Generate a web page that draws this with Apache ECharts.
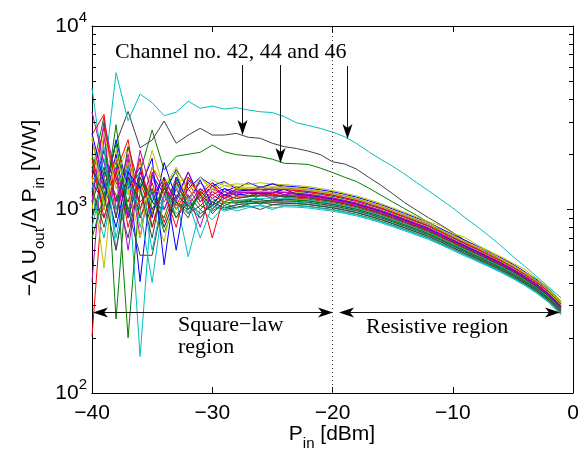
<!DOCTYPE html>
<html>
<head>
<meta charset="utf-8">
<script src="https://cdn.jsdelivr.net/npm/echarts@6/dist/echarts.min.js"></script>
<style>html,body{margin:0;padding:0;background:#fff}#c{width:578px;height:452px}</style>
</head>
<body>
<div id="c"></div>
<script>
// ---------- DATA ----------
const pin = [-40,-39,-38,-37,-36,-35,-34,-33,-32,-31,-30,-29,-28,-27,-26,-25,-24,-23,-22,-21,-20,-19,-18,-17,-16,-15,-14,-13,-12,-11,-10,-9,-8,-7,-6,-5,-4,-3,-2,-1];

// highlighted channels
const ch46 = [4590,1500,5565,3050,4254,3820,3245,3390,3890,3560,3664,3530,3590,3485,3410,3375,3205,2970,2870,2765,2640,2493,2290,2065,1880,1720,1560,1400,1265,1135,1020,905,810,720,635,555,490,430,377,330];
const ch44 = [1500,1300,2300,3420,2170,2390,3035,2295,2545,2770,2545,2545,2600,2475,2443,2295,2200,2150,2080,1990,1820,1770,1660,1500,1360,1220,1090,990,900,825,750,680,615,560,510,465,420,378,333,288];
const ch42 = [1200,900,1500,1300,1600,2710,1640,1950,2000,2050,2245,2065,1990,1960,1940,1880,1785,1775,1760,1680,1590,1500,1420,1310,1200,1100,1010,930,850,780,715,650,595,545,500,455,412,372,328,283];

// remaining channels (bundle)
const chA01 = [1250,2100,1100,1700,405,1550,1200,1650,1300,1500,1350,1420,1300,1400,1320,1380,1343,1329,1310,1280,1250,1209,1168,1116,1064,1006,952,898,847,788,732,681,633,588,546,503,458,414,367,315];
const chA02 = [1600,3200,253,1800,900,1250,750,1100,950,1050,980,1080,1020,1071,1100,1060,1081,1074,1062,1041,1020,990,960,920,880,836,793,751,711,664,619,577,539,503,468,432,396,359,319,275];
const chA03 = [203,1500,1900,800,1400,950,1300,1050,1400,1100,1250,1150,1230,1180,1260,1200,1240,1207,1192,1166,1140,1104,1068,1022,976,925,876,828,782,729,678,631,588,547,509,469,428,388,344,296];
const chA04 = [1100,1900,700,1500,158,1200,800,1150,553,1000,880,1050,980,1023,1060,1020,1035,1030,1019,999,980,952,923,886,848,806,765,725,687,642,599,559,523,488,454,420,385,349,311,267];
const chA05 = [405,2500,900,1900,700,1600,1000,1500,1150,1400,1200,1300,1250,1285,1250,1320,1286,1274,1256,1228,1200,1161,1122,1073,1024,969,917,866,817,761,707,658,613,570,529,488,445,402,357,306];
const chA06 = [1500,480,2100,1200,1800,1000,668,1400,1500,1250,1450,1350,1380,1369,1400,1374,1366,1352,1332,1301,1270,1228,1186,1133,1080,1021,966,911,859,815,742,705,642,596,553,510,472,419,372,318];
const chA07 = [1300,800,1600,1000,563,563,1200,900,1100,950,1050,1000,1030,1047,1000,1061,1058,1052,1040,1020,1000,971,941,903,864,821,779,738,699,653,609,568,531,496,461,426,391,354,315,271];
const chA08 = [1700,1000,2000,900,1600,1100,1500,600,1450,1200,1400,1250,1330,1260,1313,1380,1309,1296,1278,1249,1220,1180,1141,1090,1040,984,931,879,829,772,717,667,621,577,536,494,450,407,361,310];
const chA09 = [900,1400,1800,200,1300,800,1350,900,1200,1000,1150,1050,1120,1130,1136,1100,1138,1129,1116,1093,1070,1037,1005,962,920,873,827,783,740,691,643,599,559,521,485,447,409,371,329,283];
const chA10 = [2550,3300,1000,1500,900,1400,850,1300,950,1250,700,1200,1100,1100,1200,1230,1161,1152,1138,1114,1090,1056,1023,979,936,888,841,796,752,702,653,608,568,529,492,454,415,376,334,287];
const chA11 = [1200,700,1700,1100,1400,600,1250,1000,1150,900,1100,1000,1060,1095,1101,1107,1104,1096,1084,1062,1040,1009,978,937,896,851,807,764,723,675,629,586,547,510,475,438,401,364,323,278];
const chA12 = [3400,1800,1100,2000,1000,1500,1100,1400,1200,800,1300,1200,1240,1238,1242,1300,1241,1229,1213,1187,1160,1123,1086,1039,992,940,890,841,794,740,688,640,596,555,516,475,434,393,348,299];
const chA13 = [1000,2600,1300,1800,1200,2100,1300,1700,1250,1500,1300,1400,1330,1321,1325,1328,1320,1307,1289,1259,1230,1190,1150,1099,1048,991,938,885,850,777,722,672,625,595,539,497,453,420,363,311];
const chA14 = [900,1600,1200,700,1500,1000,1300,1100,1000,1200,1050,1150,1090,1107,1112,1119,1115,1107,1094,1072,1050,1018,987,945,904,858,814,770,729,680,634,590,551,514,478,441,404,366,325,280];
const chA15 = [1400,1100,2400,1300,1700,900,1800,1150,1600,1150,1350,1200,1280,1261,1330,1270,1200,1252,1235,1207,1180,1142,1104,1056,1008,954,903,853,805,750,697,649,605,562,522,482,439,397,353,303];
const chA16 = [2000,1000,2900,900,1500,1000,1300,1600,1000,1250,1100,1200,1150,1178,1183,1188,1184,1174,1159,1135,1110,1075,1041,996,952,903,855,809,764,713,663,617,576,536,499,460,420,381,338,290];
const chA17 = [1500,2800,1400,1100,1900,800,1400,1000,1300,1050,1200,1100,1180,1190,1195,1200,1195,1185,1170,1145,1120,1085,1050,1005,960,910,862,815,770,718,668,622,580,540,502,463,423,383,340,292];
const chA18 = [800,1500,1000,1700,800,1300,1000,1350,950,1200,1000,1150,1100,1142,1148,1154,1149,1141,1127,1103,1080,1047,1014,971,928,880,834,789,746,696,648,604,564,525,488,451,412,373,332,285];
const chA19 = [2400,1300,1700,600,1600,1100,1000,1400,1050,1300,1150,1250,1190,1270,1207,1150,1206,1196,1181,1155,1130,1095,1059,1014,968,917,869,821,776,723,673,627,584,544,505,466,426,385,342,294];
const chA20 = [1800,1100,1500,2200,1000,1300,1200,1000,1500,1150,1300,1100,1260,1250,1254,1258,1252,1241,1224,1197,1170,1133,1095,1048,1000,947,897,847,800,745,693,645,601,559,519,479,437,395,351,301];
const chA21 = [1100,1700,900,2200,1300,700,1500,1100,900,1300,1000,1200,1150,1172,1230,1183,1178,1168,1154,1129,1105,1071,1036,992,948,899,852,805,761,710,661,615,574,534,497,458,419,379,337,289];
const chA22 = [2600,1400,800,1600,1300,1900,500,1500,1100,1450,1050,1300,1200,1220,1225,1229,1290,1213,1197,1171,1145,1109,1073,1026,980,929,879,831,785,732,680,633,590,549,511,471,430,389,345,296];
const chA23 = [700,1200,2300,1000,1500,1100,900,1450,1000,1200,950,1100,1080,1125,1070,1136,1132,1124,1111,1088,1065,1033,1000,958,916,869,824,780,738,688,641,597,557,520,483,446,408,370,328,282];
const chA24 = [1900,900,1600,2400,1000,1700,1250,800,1500,1200,1400,1150,1300,1279,1284,1287,1281,1268,1251,1223,1195,1156,1118,1069,1020,966,914,863,814,759,705,656,611,568,528,486,443,401,356,305];
const chA25 = [1300,2200,600,1400,1000,400,1200,950,1100,700,1050,980,1020,1041,1047,1000,1052,1046,1035,1015,995,966,937,899,860,817,776,735,696,650,607,566,529,494,459,424,389,353,314,270];
const chA26 = [1100,3000,1500,900,2100,1200,1450,1100,1600,1100,1350,1150,1250,1232,1236,1241,1235,1224,1208,1181,1155,1118,1082,1035,988,936,886,837,791,737,685,638,594,553,514,474,432,391,347,298];
const chA27 = [2500,1000,1900,1300,700,1700,1400,1600,1100,1500,1250,1350,1300,1303,1307,1310,1303,1290,1273,1244,1215,1175,1136,1086,1036,980,928,876,826,769,715,665,619,575,534,492,449,406,360,309];
const chA28 = [1700,1200,600,1500,1100,1300,800,1200,1050,900,1100,1020,1060,1077,1083,1090,1087,1080,1067,1046,1025,995,964,924,884,840,796,754,714,667,621,579,541,505,470,434,397,360,320,275];

const minorTickValues = [200,300,400,500,600,700,800,900,2000,3000,4000,5000,6000,7000,8000,9000];

// ---------- STYLE ----------
const matlab = ['#0000FF','#008000','#FF0000','#00BFBF','#BF00BF','#BFBF00','#404040'];
const bundle = [chA01,chA02,chA03,chA04,chA05,chA06,chA07,chA08,chA09,chA10,chA11,chA12,chA13,chA14,chA15,chA16,chA17,chA18,chA19,chA20,chA21,chA22,chA23,chA24,chA25,chA26,chA27,chA28];
const highlighted = [[ch42,'#008000'],[ch44,'#404040'],[ch46,'#00BFBF']];

const SANS = 'Liberation Sans';
const SERIF = 'Liberation Serif';

function lineSeries(vals, color) {
  return {
    type: 'line', xAxisIndex: 0, yAxisIndex: 0,
    data: pin.map((x, j) => [x, vals[j]]),
    showSymbol: false, symbol: 'none', silent: true, animation: false,
    lineStyle: { width: 1, color: color }, itemStyle: { color: color },
    emphasis: { disabled: true }, z: 2
  };
}

const series = [];
highlighted.forEach(h => series.push(lineSeries(h[0], h[1])));
bundle.forEach((v, i) => series.push(lineSeries(v, matlab[i % 7])));

// dotted vertical line at -20 dBm
series[0].markLine = {
  silent: true, symbol: ['none', 'none'], animation: false,
  label: { show: false },
  lineStyle: { type: [1, 3], color: '#444', width: 1 },
  data: [{ xAxis: -20 }]
};

// minor ticks of log axis (left and right)
series.push({
  type: 'custom', xAxisIndex: 0, yAxisIndex: 0, silent: true, animation: false, z: 10,
  data: minorTickValues.map(v => [-40, v]),
  renderItem: function (params, api) {
    const v = api.value(1);
    const a = api.coord([-40, v]);
    const b = api.coord([0, v]);
    const y = Math.round(a[1]) + 0.5;
    return { type: 'group', children: [
      { type: 'line', shape: { x1: a[0], y1: y, x2: a[0] + 4, y2: y }, style: { stroke: '#000', lineWidth: 1 } },
      { type: 'line', shape: { x1: b[0] - 4, y1: y, x2: b[0], y2: y }, style: { stroke: '#000', lineWidth: 1 } }
    ]};
  }
});

const axisLine = { show: true, onZero: false, lineStyle: { color: '#000', width: 1 } };

function head(x, y, dir) {
  const L = 15, W = 5, N = 11;
  let p;
  if (dir === 'down') p = [[x, y], [x - W, y - L], [x, y - N], [x + W, y - L]];
  else if (dir === 'left') p = [[x, y], [x + L, y - W], [x + N, y], [x + L, y + W]];
  else p = [[x, y], [x - L, y - W], [x - N, y], [x - L, y + W]];
  return { type: 'polygon', silent: true, z: 100, shape: { points: p }, style: { fill: '#000' } };
}
function seg(x1, y1, x2, y2) {
  return { type: 'line', silent: true, z: 99, shape: { x1: x1, y1: y1, x2: x2, y2: y2 }, style: { stroke: '#111', lineWidth: 1 } };
}

const graphics = [
  // y axis name
  { type: 'text', x: 30, y: 208, rotation: Math.PI / 2, z: 100, silent: true,
    style: { text: '\u2212\u0394 U{sub|out}/\u0394 P{sub|in} [V/W]', fontFamily: SANS, fontSize: 21, fill: '#000',
      align: 'center', verticalAlign: 'middle',
      rich: { sub: { fontFamily: SANS, fontSize: 15, fill: '#000', padding: [20, 0, 0, 0] } } } },
  // x axis name
  { type: 'text', x: 332, y: 434, z: 100, silent: true,
    style: { text: 'P{sub|in} [dBm]', fontFamily: SANS, fontSize: 21, fill: '#000',
      align: 'center', verticalAlign: 'middle',
      rich: { sub: { fontFamily: SANS, fontSize: 15, fill: '#000', padding: [20, 0, 0, 0] } } } },
  // annotations
  { type: 'text', x: 115, y: 52, z: 100, silent: true,
    style: { text: 'Channel no. 42, 44 and 46', fontFamily: SERIF, fontSize: 22, fill: '#000', align: 'left', verticalAlign: 'middle' } },
  { type: 'text', x: 178, y: 325, z: 100, silent: true,
    style: { text: 'Square\u2212law', fontFamily: SERIF, fontSize: 22, fill: '#000', align: 'left', verticalAlign: 'middle' } },
  { type: 'text', x: 178, y: 347, z: 100, silent: true,
    style: { text: 'region', fontFamily: SERIF, fontSize: 22, fill: '#000', align: 'left', verticalAlign: 'middle' } },
  { type: 'text', x: 366, y: 327, z: 100, silent: true,
    style: { text: 'Resistive region', fontFamily: SERIF, fontSize: 22, fill: '#000', align: 'left', verticalAlign: 'middle' } },
  // down arrows
  seg(242.5, 65, 242.5, 126), head(242.5, 135, 'down'),
  seg(280.5, 65, 280.5, 154), head(280.5, 163, 'down'),
  seg(347.5, 66, 347.5, 130), head(347.5, 139, 'down'),
  // region arrows
  seg(100, 312.5, 326, 312.5), head(93, 312.5, 'left'), head(333, 312.5, 'right'),
  seg(346, 312.5, 553, 312.5), head(339, 312.5, 'left'), head(560, 312.5, 'right')
];

const option = {
  backgroundColor: '#fff',
  animation: false,
  grid: { left: 92, right: 5, top: 26, bottom: 59, containLabel: false, outerBoundsMode: 'none' },
  xAxis: [
    { type: 'value', min: -40, max: 0, interval: 10, position: 'bottom',
      axisLine: axisLine, splitLine: { show: false },
      axisTick: { show: true, inside: true, length: 6, lineStyle: { color: '#000' } },
      axisLabel: { show: true, margin: 10, fontFamily: SANS, fontSize: 21, color: '#000',
        showMinLabel: true, showMaxLabel: true, hideOverlap: false,
        formatter: v => (v < 0 ? '\u2212' : '') + Math.abs(v) } },
    { type: 'value', min: -40, max: 0, interval: 10, position: 'top',
      axisLine: axisLine, splitLine: { show: false },
      axisTick: { show: true, inside: true, length: 6, lineStyle: { color: '#000' } },
      axisLabel: { show: false } }
  ],
  yAxis: [
    { type: 'log', logBase: 10, min: 100, max: 10000, position: 'left', splitNumber: 2,
      axisLine: axisLine, splitLine: { show: false },
      axisTick: { show: true, inside: true, length: 6, lineStyle: { color: '#000' } },
      axisLabel: { show: true, margin: 5, fontFamily: SANS, fontSize: 21, color: '#000',
        showMinLabel: true, showMaxLabel: true, hideOverlap: false,
        formatter: v => '10{sup|' + Math.round(Math.log10(v)) + '}',
        rich: { sup: { fontFamily: SANS, fontSize: 15, color: '#000', padding: [0, 0, 16, 0] } } } },
    { type: 'log', logBase: 10, min: 100, max: 10000, position: 'right', splitNumber: 2,
      axisLine: axisLine, splitLine: { show: false },
      axisTick: { show: true, inside: true, length: 6, lineStyle: { color: '#000' } },
      axisLabel: { show: false } }
  ],
  series: series,
  graphic: graphics
};

const chart = echarts.init(document.getElementById('c'), null, { renderer: 'canvas', width: 578, height: 452 });
chart.setOption(option);
</script>
</body>
</html>
